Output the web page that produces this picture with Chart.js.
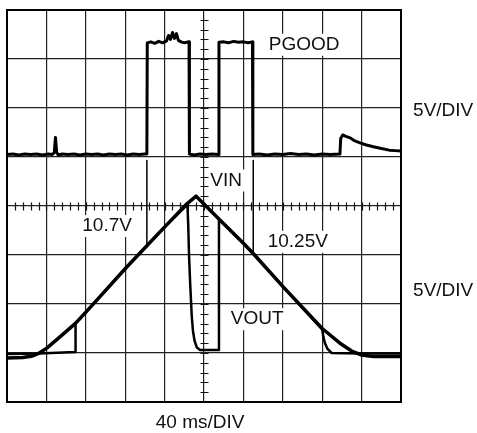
<!DOCTYPE html>
<html>
<head>
<meta charset="utf-8">
<script src="https://cdn.jsdelivr.net/npm/chart.js@4.4.1/dist/chart.umd.min.js"></script>
<style>
  html, body { margin: 0; padding: 0; background: #fff; }
  #wrap { width: 477px; height: 433px; }
</style>
</head>
<body>
<div id="wrap"><canvas id="c" width="477" height="433"></canvas></div>
<script>
// ---- Data (x in time divisions 0..10, y in volt divisions 0..8) ----
const pgood = [
  [0,5.05],[0.15,5.06],[0.3,5.04],[0.45,5.06],[0.6,5.05],[0.75,5.06],[0.9,5.04],[1.05,5.06],
  [1.15,5.05],[1.2,5.09],[1.23,5.40],[1.26,5.10],[1.3,5.04],[1.4,5.06],[1.55,5.05],[1.7,5.06],
  [1.85,5.04],[2.0,5.06],[2.15,5.05],[2.3,5.06],[2.45,5.04],[2.6,5.06],[2.75,5.05],[2.9,5.06],
  [3.05,5.04],[3.2,5.06],[3.35,5.05],[3.5,5.06],[3.55,5.06],[3.56,7.33],[3.65,7.35],[3.75,7.32],
  [3.85,7.36],[3.95,7.33],[4.05,7.37],[4.1,7.48],[4.15,7.40],[4.2,7.54],[4.25,7.42],[4.3,7.52],
  [4.35,7.38],[4.42,7.35],[4.5,7.33],[4.6,7.35],[4.62,7.35],[4.63,5.06],[4.75,5.04],[4.9,5.06],
  [5.05,5.05],[5.2,5.06],[5.37,5.05],[5.38,7.34],[5.5,7.35],[5.62,7.33],[5.75,7.36],[5.88,7.34],
  [6.0,7.35],[6.12,7.33],[6.23,7.35],[6.24,5.05],[6.4,5.06],[6.6,5.04],[6.8,5.06],[7.0,5.05],
  [7.2,5.07],[7.4,5.05],[7.6,5.06],[7.8,5.04],[8.0,5.06],[8.2,5.05],[8.45,5.06],[8.47,5.38],
  [8.52,5.45],[8.6,5.42],[8.71,5.39],[8.8,5.34],[8.96,5.29],[9.1,5.25],[9.3,5.21],[9.47,5.18],
  [9.7,5.14],[9.85,5.13],[10,5.12]
];
const vin = [
  [0,0.90],[0.4,0.91],[0.65,0.94],[0.8,0.99],[1.01,1.10],[1.3,1.30],[1.73,1.60],[2.02,1.85],
  [2.36,2.15],[3.01,2.73],[3.55,3.19],[4.01,3.58],[4.56,4.04],[4.80,4.20],[5.41,3.71],[6.00,3.24],
  [6.25,3.03],[7.01,2.35],[8.00,1.50],[8.45,1.20],[8.75,1.04],[8.99,0.96],[9.3,0.93],[10,0.93]
];
const vout = [
  [0,0.98],[0.8,0.99],[1.74,1.02],[1.74,1.60],[2.02,1.85],[2.36,2.15],[3.01,2.73],[4.01,3.58],
  [4.58,4.03],[4.60,3.60],[4.62,3.00],[4.65,2.40],[4.69,1.74],[4.72,1.45],[4.76,1.25],[4.82,1.11],
  [4.90,1.06],[5.38,1.06],[5.38,3.73],[5.41,3.71],[6.00,3.24],[7.01,2.35],[8.00,1.48],[8.03,1.33],
  [8.07,1.20],[8.13,1.09],[8.24,1.00],[9.0,0.99],[10,0.99]
];
const marker1 = [[3.55,4.93],[3.55,3.20]];
const marker2 = [[6.25,4.93],[6.25,3.03]];

const labels = [
  { text: 'PGOOD',     x: 7.54, y: 7.29, box: true },
  { text: 'VIN',       x: 5.56, y: 4.52, box: true },
  { text: '10.7V',     x: 2.54, y: 3.59, box: true },
  { text: '10.25V',    x: 7.38, y: 3.27, box: true },
  { text: 'VOUT',      x: 6.35, y: 1.69, box: true },
  { text: '5V/DIV',    x: 11.07, y: 5.95, box: false },
  { text: '5V/DIV',    x: 11.07, y: 2.27, box: false },
  { text: '40 ms/DIV', x: 4.9,  y: -0.43, box: false }
];

const FONT = '19px "Liberation Sans", Arial, sans-serif';
const toPts = a => a.map(p => ({ x: p[0], y: p[1] }));

const bgPlugin = {
  id: 'bg',
  beforeDraw(chart) {
    const ctx = chart.ctx;
    ctx.save(); ctx.fillStyle = '#fff';
    ctx.fillRect(0, 0, chart.width, chart.height); ctx.restore();
  }
};

const scopePlugin = {
  id: 'scope',
  beforeDatasetsDraw(chart) {
    const ctx = chart.ctx, xs = chart.scales.x, ys = chart.scales.y;
    ctx.save();
    ctx.font = FONT;
    ctx.textAlign = 'center';
    ctx.textBaseline = 'middle';
    labels.forEach(l => {
      if (!l.box) return;
      const w = ctx.measureText(l.text).width;
      const px = xs.getPixelForValue(l.x), py = ys.getPixelForValue(l.y);
      ctx.fillStyle = '#fff';
      ctx.fillRect(px - w / 2 - 4, py - 11, w + 8, 22);
    });
    ctx.strokeStyle = '#111';
    ctx.lineWidth = 1.2;
    const cy = Math.round(ys.getPixelForValue(4)) + 0.5;
    const cx = Math.round(xs.getPixelForValue(5)) + 0.5;
    ctx.beginPath();
    for (let i = 1; i < 50; i++) {
      const px = Math.round(xs.getPixelForValue(i * 0.2)) + 0.5;
      ctx.moveTo(px, cy - 4); ctx.lineTo(px, cy + 4);
    }
    for (let i = 1; i < 40; i++) {
      const py = Math.round(ys.getPixelForValue(i * 0.2)) + 0.5;
      ctx.moveTo(cx - 4, py); ctx.lineTo(cx + 4, py);
    }
    ctx.stroke();
    ctx.restore();
  },
  afterDatasetsDraw(chart) {
    const ctx = chart.ctx, xs = chart.scales.x, ys = chart.scales.y, a = chart.chartArea;
    ctx.save();
    ctx.strokeStyle = '#000';
    ctx.lineWidth = 2;
    ctx.strokeRect(a.left, a.top, a.right - a.left, a.bottom - a.top);
    ctx.font = FONT;
    ctx.fillStyle = '#111';
    ctx.textBaseline = 'middle';
    ctx.textAlign = 'center';
    labels.forEach(l => {
      ctx.fillText(l.text, xs.getPixelForValue(l.x), ys.getPixelForValue(l.y));
    });
    ctx.restore();
  }
};

const line = (data, w) => ({
  data: toPts(data), showLine: true, borderColor: '#000', backgroundColor: '#000',
  borderWidth: w, pointRadius: 0, tension: 0, fill: false,
  borderJoinStyle: 'round', borderCapStyle: 'butt'
});

new Chart(document.getElementById('c'), {
  type: 'scatter',
  data: {
    datasets: [
      line(marker1, 1.5),
      line(marker2, 1.5),
      line(pgood, 3),
      line(vout, 2.5),
      line(vin, 3.5)
    ]
  },
  options: {
    responsive: false,
    animation: false,
    devicePixelRatio: 1,
    layout: { padding: { left: 7, top: 10, right: 76, bottom: 31 } },
    plugins: { legend: { display: false }, tooltip: { enabled: false } },
    scales: {
      x: {
        type: 'linear', min: 0, max: 10,
        ticks: { stepSize: 1, display: false },
        grid: { color: '#222', lineWidth: 1.2, drawTicks: false },
        border: { display: false }
      },
      y: {
        type: 'linear', min: 0, max: 8,
        ticks: { stepSize: 1, display: false },
        grid: { color: '#222', lineWidth: 1.2, drawTicks: false },
        border: { display: false }
      }
    }
  },
  plugins: [bgPlugin, scopePlugin]
});
</script>
</body>
</html>
